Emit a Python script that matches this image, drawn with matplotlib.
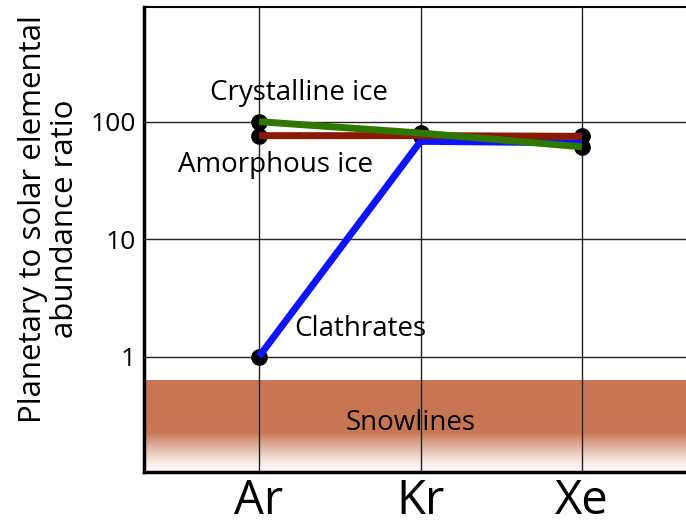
import numpy as np
import matplotlib
matplotlib.use("Agg")
import matplotlib.pyplot as plt
from matplotlib.colors import to_rgb
from matplotlib.patches import Rectangle

plt.rcParams['font.family'] = ['Open Sans', 'DejaVu Sans']

elements = ['Ar', 'Kr', 'Xe']
clathrates = [1, 68, 66]
amorphous_ice = [76, 76, 75]
crystalline_ice = [100, 80, 61]

# snowline band (data values on the log axis)
band_top = 0.63
band_solid_bottom = 0.23

ymin, ymax = 0.104, 950
band_color = '#c87553'

fig = plt.figure(figsize=(6.86, 5.25), dpi=100)
ax = fig.add_axes([0.21, 0.101, 0.79, 0.886])
ax.set_yscale('log')
ax.set_ylim(ymin, ymax)
x = np.arange(len(elements))
ax.set_xlim(-0.712, 2.644)


def draw_band(zorder, clip=None):
    patches = [ax.axhspan(band_solid_bottom, band_top, color=band_color, lw=0, zorder=zorder)]
    edges = np.logspace(np.log10(ymin), np.log10(band_solid_bottom), 41)
    base = np.array(to_rgb(band_color))
    for i in range(len(edges) - 1):
        a = ((i + 0.5) / (len(edges) - 1)) ** 1.3
        c = 1 - a * (1 - base)  # fade to white, kept opaque
        patches.append(ax.axhspan(edges[i], edges[i + 1], color=c, lw=0,
                                  zorder=zorder, antialiased=False))
    if clip is not None:
        for p in patches:
            p.set_clip_path(clip)


draw_band(1)
# gap in the Kr gridline behind the "Snowlines" label
gap = Rectangle((0.95, 0.195), 0.1, 0.16, transform=ax.transData)
draw_band(2.5, clip=gap)

ax.grid(True, which='major', color='#222222', lw=1.0, zorder=2)
ax.set_axisbelow(False)

# markers under the lines
for series in (crystalline_ice, amorphous_ice):
    ax.plot(x, series, 'o', color='black', ms=11, zorder=3)
ax.plot(x[0], clathrates[0], 'o', color='black', ms=11, zorder=3)

ax.plot(x, clathrates, color='#0a14ff', lw=5, zorder=4, solid_capstyle='butt')
ax.plot(x, amorphous_ice, color='#8b1800', lw=5, zorder=5, solid_capstyle='butt')
ax.plot(x, crystalline_ice, color='#2e7800', lw=5, zorder=6, solid_capstyle='butt')

ax.text(0.25, 174, 'Crystalline ice', fontsize=20, ha='center', va='center', zorder=7)
ax.text(0.1, 43, 'Amorphous ice', fontsize=20, ha='center', va='center', zorder=7)
ax.text(0.63, 1.7, 'Clathrates', fontsize=20, ha='center', va='center', zorder=7)
ax.text(0.94, 0.27, 'Snowlines', fontsize=20, ha='center', va='center', zorder=7)

ax.set_xticks(x)
ax.set_xticklabels(elements, fontsize=34)
ax.set_yticks([1, 10, 100])
ax.set_yticklabels(['1', '10', '100'], fontsize=19)
ax.yaxis.set_minor_locator(matplotlib.ticker.NullLocator())
ax.tick_params(length=0, pad=6)
ax.tick_params(axis='x', pad=4)

ax.set_ylabel('Planetary to solar elemental\nabundance ratio', fontsize=22.5, linespacing=1.08)
ax.yaxis.set_label_coords(-0.118, 0.544)

for side in ('left', 'bottom'):
    ax.spines[side].set_linewidth(2.5)
ax.spines['top'].set_linewidth(1.5)
ax.spines['right'].set_visible(False)

fig.savefig('out.png', dpi=100)
